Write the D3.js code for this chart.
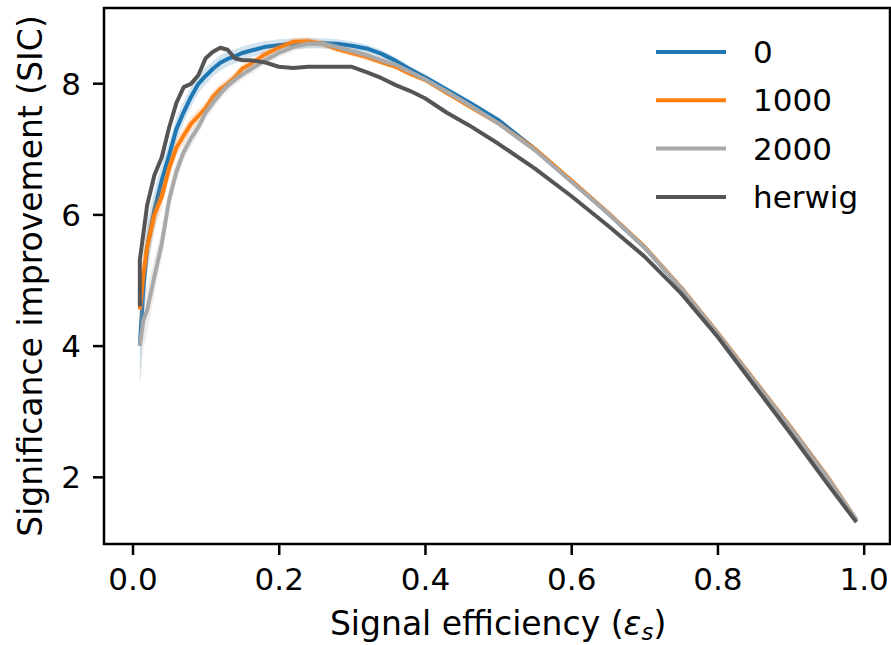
<!DOCTYPE html>
<meta http-equiv="Content-type" content="text/html; charset=UTF-8"/>
<style>
  body { margin: 0; background: #fff; }
  * { font-family: 'DejaVu Sans', sans-serif; }
</style>
<svg width="891" height="645"></svg>
<script src="https://cdn.jsdelivr.net/npm/d3@7"></script>
<script>
// signal efficiency grid shared by the three trainings
var eff = [0.010, 0.015, 0.02, 0.03, 0.04, 0.05, 0.06, 0.07, 0.08, 0.09, 0.10, 0.11, 0.12, 0.13,
  0.14, 0.15, 0.16, 0.18, 0.20, 0.22, 0.24, 0.26, 0.28, 0.30, 0.32, 0.34, 0.36, 0.38, 0.40,
  0.43, 0.46, 0.50, 0.55, 0.60, 0.65, 0.70, 0.75, 0.80, 0.85, 0.90, 0.95, 0.99];
// herwig starts with a jump at the first point
var effHerwig = [0.010, 0.010, 0.02, 0.03, 0.04, 0.05, 0.06, 0.07, 0.08, 0.09, 0.10, 0.11, 0.12, 0.13,
  0.14, 0.15, 0.16, 0.18, 0.20, 0.22, 0.24, 0.26, 0.28, 0.30, 0.32, 0.34, 0.36, 0.38, 0.40,
  0.43, 0.46, 0.50, 0.55, 0.60, 0.65, 0.70, 0.75, 0.80, 0.85, 0.90, 0.95, 0.99];

var sic0 = [4.00, 4.90, 5.50, 6.07, 6.52, 6.90, 7.30, 7.56, 7.79, 7.99, 8.11, 8.22, 8.31, 8.37,
  8.41, 8.46, 8.49, 8.55, 8.58, 8.60, 8.61, 8.61, 8.60, 8.57, 8.53, 8.45, 8.34, 8.21, 8.09,
  7.90, 7.71, 7.44, 7.00, 6.51, 6.02, 5.50, 4.88, 4.19, 3.47, 2.75, 2.00, 1.34];
var sic1000 = [4.55, 5.10, 5.50, 6.00, 6.27, 6.70, 7.02, 7.20, 7.38, 7.50, 7.62, 7.79, 7.91, 7.99,
  8.09, 8.22, 8.28, 8.43, 8.54, 8.63, 8.64, 8.60, 8.52, 8.46, 8.40, 8.32, 8.25, 8.14, 8.05,
  7.85, 7.65, 7.39, 7.00, 6.52, 6.03, 5.51, 4.89, 4.20, 3.48, 2.76, 2.01, 1.34];
var sic2000 = [4.00, 4.39, 4.54, 5.06, 5.55, 6.22, 6.65, 6.95, 7.16, 7.33, 7.55, 7.70, 7.84, 7.96,
  8.05, 8.13, 8.20, 8.34, 8.46, 8.55, 8.60, 8.60, 8.55, 8.49, 8.43, 8.35, 8.28, 8.17, 8.06,
  7.87, 7.67, 7.39, 6.98, 6.50, 6.02, 5.50, 4.88, 4.19, 3.47, 2.75, 2.00, 1.34];
var sicHerwig = [4.60, 5.30, 6.14, 6.60, 6.87, 7.32, 7.70, 7.94, 7.99, 8.12, 8.38, 8.48, 8.54, 8.51,
  8.38, 8.35, 8.35, 8.32, 8.25, 8.23, 8.25, 8.25, 8.25, 8.25, 8.17, 8.08, 7.97, 7.88, 7.77,
  7.55, 7.36, 7.08, 6.70, 6.28, 5.83, 5.36, 4.80, 4.14, 3.40, 2.66, 1.90, 1.31];

// half width of the shaded bands
var err0 = [0.60, 0.50, 0.40, 0.30, 0.25, 0.20, 0.18, 0.16, 0.15, 0.14, 0.13, 0.12, 0.12, 0.11,
  0.11, 0.10, 0.10, 0.09, 0.09, 0.08, 0.08, 0.08, 0.07, 0.07, 0.06, 0.06, 0.05, 0.05, 0.05,
  0.04, 0.04, 0.04, 0.03, 0.03, 0.03, 0.03, 0.02, 0.02, 0.02, 0.02, 0.02, 0.02];
var err1000 = [0.40, 0.35, 0.30, 0.22, 0.18, 0.15, 0.13, 0.12, 0.11, 0.10, 0.09, 0.09, 0.08, 0.08,
  0.08, 0.07, 0.07, 0.07, 0.06, 0.06, 0.06, 0.05, 0.05, 0.05, 0.05, 0.04, 0.04, 0.04, 0.04,
  0.03, 0.03, 0.03, 0.03, 0.02, 0.02, 0.02, 0.02, 0.02, 0.02, 0.02, 0.02, 0.02];
var err2000 = [0.60, 0.45, 0.35, 0.28, 0.22, 0.18, 0.15, 0.13, 0.12, 0.11, 0.10, 0.10, 0.09, 0.09,
  0.08, 0.08, 0.08, 0.07, 0.07, 0.06, 0.06, 0.06, 0.05, 0.05, 0.05, 0.05, 0.04, 0.04, 0.04,
  0.04, 0.03, 0.03, 0.03, 0.03, 0.02, 0.02, 0.02, 0.02, 0.02, 0.02, 0.02, 0.02];

var xTicks = [0.0, 0.2, 0.4, 0.6, 0.8, 1.0];
var yTicks = [2, 4, 6, 8];

var series = [
  {name: "0", x: eff, y: sic0, err: err0, color: "#1f77b4"},
  {name: "1000", x: eff, y: sic1000, err: err1000, color: "#ff7f0e"},
  {name: "2000", x: eff, y: sic2000, err: err2000, color: "#a9a9a9"},
  {name: "herwig", x: effHerwig, y: sicHerwig, err: null, color: "#555555"}
];

var svg = d3.select("svg"),
    margin = {top: 8, right: 1, bottom: 101, left: 104},
    width = +svg.attr("width") - margin.left - margin.right,
    height = +svg.attr("height") - margin.top - margin.bottom,
    g = svg.append("g").attr("transform", "translate(" + margin.left + "," + margin.top + ")");

var x = d3.scaleLinear().domain([-0.039, 1.036]).range([0, width]);
var y = d3.scaleLinear().domain([0.976, 9.146]).range([height, 0]);

var line = d3.line()
    .x(function(d) { return x(d[0]); })
    .y(function(d) { return y(d[1]); });

var band = d3.area()
    .x(function(d) { return x(d[0]); })
    .y0(function(d) { return y(d[1] - d[2]); })
    .y1(function(d) { return y(d[1] + d[2]); });

series.forEach(function(s) {
  var pts = s.x.map(function(v, i) { return [v, s.y[i], s.err ? s.err[i] : 0]; });
  if (s.err) {
    g.append("path")
        .datum(pts)
        .attr("fill", s.color)
        .attr("fill-opacity", 0.2)
        .attr("d", band);
  }
  g.append("path")
      .datum(pts)
      .attr("fill", "none")
      .attr("stroke", s.color)
      .attr("stroke-width", 4)
      .attr("stroke-linejoin", "round")
      .attr("d", line);
});

// axes
var xAxis = g.append("g")
    .attr("transform", "translate(0," + height + ")")
    .call(d3.axisBottom(x).tickValues(xTicks).tickFormat(d3.format(".1f")).tickSizeInner(11).tickSizeOuter(0).tickPadding(6));
var yAxis = g.append("g")
    .call(d3.axisLeft(y).tickValues(yTicks).tickFormat(d3.format("d")).tickSizeInner(11).tickSizeOuter(0).tickPadding(12));

[xAxis, yAxis].forEach(function(a) {
  a.select(".domain").remove();
  a.selectAll(".tick line").attr("stroke", "#000").attr("stroke-width", 2.5);
  a.selectAll(".tick text").attr("fill", "#000").style("font-size", "31px");
});
xAxis.selectAll(".tick text").attr("dy", "0.92em");
yAxis.selectAll(".tick text").attr("dy", "0.36em");

// frame
g.append("rect")
    .attr("width", width)
    .attr("height", height)
    .attr("fill", "none")
    .attr("stroke", "#000")
    .attr("stroke-width", 2.5);

// axis labels
var xl = svg.append("text")
    .attr("x", margin.left + x(0.5))
    .attr("y", 635)
    .attr("text-anchor", "middle")
    .style("font-size", "33px");
xl.append("tspan").text("Signal efficiency (");
xl.append("tspan").style("font-style", "italic").text("ε");
xl.append("tspan").style("font-style", "italic").style("font-size", "23px").attr("dy", "5").text("s");
xl.append("tspan").attr("dy", "-5").text(")");

svg.append("text")
    .attr("transform", "translate(42," + (margin.top + height / 2) + ") rotate(-90)")
    .attr("text-anchor", "middle")
    .style("font-size", "33px")
    .text("Significance improvement (SIC)");

// legend
var legend = svg.append("g").attr("transform", "translate(656,52)");
series.forEach(function(s, i) {
  var row = legend.append("g").attr("transform", "translate(0," + (i * 48.3) + ")");
  row.append("line")
      .attr("x1", 0).attr("x2", 70)
      .attr("stroke", s.color)
      .attr("stroke-width", 4);
  row.append("text")
      .attr("x", 97)
      .attr("dy", "0.36em")
      .style("font-size", "31px")
      .text(s.name);
});
</script>
